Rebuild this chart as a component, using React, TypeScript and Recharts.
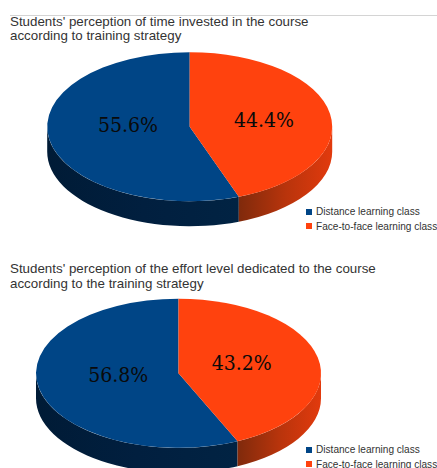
import { PieChart, Pie, Legend } from "recharts";

const SERIES_NAMES = ["Distance learning class", "Face-to-face learning class"];
const SERIES_COLORS = ["#004586", "#ff420e"];
const TIME_VALUES = [55.6, 44.4];
const EFFORT_VALUES = [56.8, 43.2];
const TIME_TITLE = [
  "Students' perception of time invested in the course",
  "according to training strategy",
];
const EFFORT_TITLE = [
  "Students' perception of the effort level dedicated to the course",
  "according to the training strategy",
];

const WIDTH = 437;
const HEIGHT = 234;
const RADIUS = 142.5;
const TILT = 0.523; // vertical squash of the disc
const DEPTH = 25;
const RAD = Math.PI / 180;

const WALL_STOPS = [
  ["#001b36", "#011f3f", "#012343"],
  ["#7f2a0c", "#b8340c", "#e23a0d"],
];

function pt(cx: number, cy: number, angle: number, dy = 0) {
  const x = cx + RADIUS * Math.cos(angle * RAD);
  const y = cy - RADIUS * TILT * Math.sin(angle * RAD) + dy;
  return `${x.toFixed(2)} ${y.toFixed(2)}`;
}

// Sector drawn as a tilted disc slice with its outer wall below it
function DiscSlice(props: any) {
  const { cx, cy, startAngle, endAngle, fill, index, gradientPrefix } = props;
  const rx = RADIUS;
  const ry = RADIUS * TILT;
  const hi = Math.max(startAngle, endAngle);
  const lo = Math.min(startAngle, endAngle);
  const large = hi - lo > 180 ? 1 : 0;
  const top = `M ${cx} ${cy} L ${pt(cx, cy, hi)} A ${rx} ${ry} 0 ${large} 1 ${pt(cx, cy, lo)} Z`;

  // the wall shows only on the front half of the rim (180..360 degrees)
  let wallHi = 0;
  let wallLo = 0;
  for (const k of [-720, -360, 0, 360, 720]) {
    const a = Math.min(hi + k, 360);
    const b = Math.max(lo + k, 180);
    if (a > b && a - b > wallHi - wallLo) {
      wallHi = a;
      wallLo = b;
    }
  }
  let wall = "";
  if (wallHi > wallLo) {
    const big = wallHi - wallLo > 180 ? 1 : 0;
    wall =
      `M ${pt(cx, cy, wallHi)} A ${rx} ${ry} 0 ${big} 1 ${pt(cx, cy, wallLo)} ` +
      `L ${pt(cx, cy, wallLo, DEPTH)} A ${rx} ${ry} 0 ${big} 0 ${pt(cx, cy, wallHi, DEPTH)} Z`;
  }
  return (
    <g>
      {wall && <path d={wall} fill={`url(#${gradientPrefix}${index})`} />}
      <path d={top} fill={fill} />
    </g>
  );
}

function DiscPie({
  values,
  title,
  top,
  cx,
  cy,
  titleY,
  legendTop,
  labelAt,
  id,
}: {
  values: number[];
  title: string[];
  top: number;
  cx: number;
  cy: number;
  titleY: number;
  legendTop: number;
  labelAt: number[][];
  id: string;
}) {
  const rows = SERIES_NAMES.map((name, i) => ({
    name,
    value: values[i],
    fill: SERIES_COLORS[i],
  }));
  // the second series starts at twelve o'clock and runs clockwise
  const start = 90 - 3.6 * values[1];
  return (
    <div style={{ position: "absolute", left: 0, top, width: WIDTH, height: HEIGHT, overflow: "hidden" }}>
      <PieChart width={WIDTH} height={HEIGHT} margin={{ top: 0, right: 0, bottom: 0, left: 0 }}>
        <defs>
          {WALL_STOPS.map((stops, i) => (
            <linearGradient key={i} id={`${id}${i}`} x1="0" y1="0" x2="1" y2="0">
              <stop offset="0%" stopColor={stops[0]} />
              <stop offset="50%" stopColor={stops[1]} />
              <stop offset="100%" stopColor={stops[2]} />
            </linearGradient>
          ))}
        </defs>
        <Pie
          data={rows}
          dataKey="value"
          nameKey="name"
          cx={cx}
          cy={cy}
          outerRadius={RADIUS}
          startAngle={start}
          endAngle={start - 360}
          stroke="none"
          isAnimationActive={false}
          shape={(p: any) => <DiscSlice {...p} gradientPrefix={id} />}
          labelLine={false}
          label={(p: any) => (
            <text
              x={labelAt[p.index][0]}
              y={labelAt[p.index][1]}
              textAnchor="middle"
              dominantBaseline="central"
              fontFamily="'DejaVu Serif Condensed', 'DejaVu Serif', serif"
              fontSize={21}
              fill="#0a0a0a"
            >
              {`${p.value}%`}
            </text>
          )}
        />
        <Legend
          layout="vertical"
          verticalAlign="top"
          align="left"
          iconType="square"
          iconSize={6}
          content={() => (
            <div style={{ position: "absolute", left: 306, top: legendTop, whiteSpace: "nowrap" }}>
              {rows.map((r) => (
                <div key={r.name} style={{ display: "flex", alignItems: "center", height: 14.5, font: "10.1px 'Liberation Sans', sans-serif", color: "#333333" }}>
                  <span style={{ width: 6, height: 6, background: r.fill, marginRight: 4, flex: "none" }} />
                  {r.name}
                </div>
              ))}
            </div>
          )}
          wrapperStyle={{ position: "absolute", left: 0, top: 0, width: 0, height: 0 }}
        />
      </PieChart>
      <div style={{ position: "absolute", left: 10, top: titleY, font: "13.35px/14.6px 'Liberation Sans', sans-serif", color: "#333333", whiteSpace: "nowrap" }}>
        {title.map((line) => (
          <div key={line}>{line}</div>
        ))}
      </div>
    </div>
  );
}

export default function App() {
  return (
    <div style={{ position: "absolute", left: 0, top: 0, width: WIDTH, height: 468, overflow: "hidden", background: "#fff" }}>
      <div style={{ position: "absolute", left: 10, top: 15, right: 0, height: 1, background: "#d4d4d4", zIndex: 1 }} />
      <DiscPie
        id="time"
        values={TIME_VALUES}
        title={TIME_TITLE}
        top={0}
        cx={189.7}
        cy={126.7}
        titleY={14.5}
        legendTop={204.5}
        labelAt={[[128, 125], [264, 120]]}
      />
      <DiscPie
        id="effort"
        values={EFFORT_VALUES}
        title={EFFORT_TITLE}
        top={234}
        cx={178.5}
        cy={139.3}
        titleY={28}
        legendTop={208.5}
        labelAt={[[118.3, 140.7], [241.7, 129.3]]}
      />
    </div>
  );
}
